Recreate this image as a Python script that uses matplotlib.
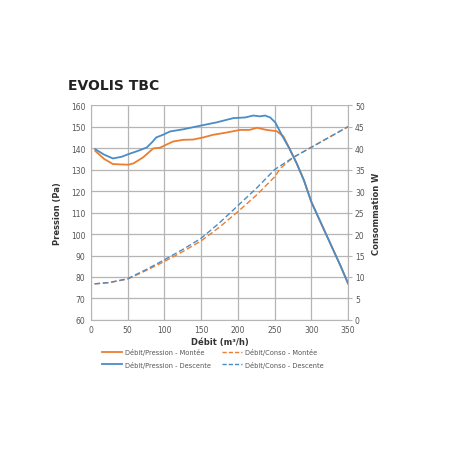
import numpy as np
import matplotlib
matplotlib.use("Agg")
import matplotlib.pyplot as plt
from matplotlib.lines import Line2D

# Débit/Pression (Pa) - left axis
x_p_montee = [6, 18, 30, 42, 51, 58, 71, 85, 94, 105, 112, 126, 139, 153, 166, 185, 203, 216, 226, 239, 253, 262, 270, 280, 290, 300, 320, 340, 350]
p_montee = [138.7, 135.0, 132.6, 132.4, 132.3, 132.9, 135.7, 139.9, 140.2, 142.0, 143.1, 143.9, 144.0, 145.0, 146.2, 147.3, 148.5, 148.5, 149.5, 148.5, 147.9, 145.5, 140.0, 133.0, 125.0, 115.0, 100.0, 85.0, 77.0]
x_p_descente = [6, 18, 30, 42, 51, 63, 76, 84, 89, 98, 108, 126, 148, 171, 194, 210, 221, 230, 237, 244, 251, 260, 270, 280, 290, 300, 320, 340, 350]
p_descente = [139.5, 137.0, 135.2, 136.0, 137.2, 138.6, 140.3, 143.0, 145.0, 146.2, 147.8, 148.8, 150.4, 152.0, 154.0, 154.3, 155.2, 154.8, 155.2, 154.3, 152.0, 146.0, 140.0, 133.0, 125.0, 115.0, 100.0, 85.0, 77.0]

# Débit/Conso (W) - right axis
x_c = [5, 25, 50, 75, 100, 125, 150, 175, 200, 225, 250, 258, 275, 300, 325, 350]
c_montee = [8.4, 8.7, 9.5, 11.5, 13.6, 15.9, 18.4, 21.6, 25.2, 29.0, 33.3, 35.3, 37.8, 40.2, 42.6, 45.0]
c_descente = [8.4, 8.7, 9.6, 11.7, 14.0, 16.4, 19.0, 22.6, 26.6, 30.6, 35.0, 35.9, 37.8, 40.2, 42.6, 45.0]

orange = "#ED7D31"
blue = "#4A8CC6"
grid_c = "#b5b5b5"
tick_c = "#555555"

fig = plt.figure(figsize=(4.52, 4.52), dpi=100)
ax = fig.add_axes([0.201, 0.29, 0.569, 0.475])
ax2 = ax.twinx()

ax.plot(x_p_montee, p_montee, color=orange, lw=1.3)
ax.plot(x_p_descente, p_descente, color=blue, lw=1.3)
ax2.plot(x_c, c_montee, color=orange, lw=1.0, ls=(0, (4, 2)))
ax2.plot(x_c, c_descente, color=blue, lw=1.0, ls=(0, (4, 2)))

ax.set_xlim(0, 350)
ax.set_ylim(60, 160)
ax2.set_ylim(0, 50)
ax.set_xticks(np.arange(0, 351, 50))
ax.set_yticks(np.arange(60, 161, 10))
ax2.set_yticks(np.arange(0, 51, 5))
ax.grid(True, color=grid_c, lw=0.9)
ax.set_axisbelow(True)

for a in (ax, ax2):
    for s in a.spines.values():
        s.set_visible(False)
    a.tick_params(labelsize=5.5, labelcolor=tick_c, color=grid_c, length=3, width=0.8)
ax.spines["left"].set_visible(True)
ax.spines["left"].set_color(grid_c)
ax.spines["bottom"].set_visible(True)
ax.spines["bottom"].set_color(grid_c)
ax2.spines["right"].set_visible(True)
ax2.spines["right"].set_color(grid_c)
ax.tick_params(axis="both", length=0, pad=4)
ax2.tick_params(axis="y", length=3, pad=2)

ax.set_xlabel("Débit (m³/h)", fontsize=6, fontweight="bold", color="#333333", labelpad=1.5)
ax.set_ylabel("Pression (Pa)", fontsize=6, fontweight="bold", color="#333333", labelpad=6)
ax2.set_ylabel("Consommation W", fontsize=6, fontweight="bold", color="#333333", labelpad=5)

fig.text(0.150, 0.800, "EVOLIS TBC", fontsize=10, fontweight="bold", color="#222222")

handles = [
    Line2D([], [], color=orange, lw=1.3),
    Line2D([], [], color=blue, lw=1.3),
    Line2D([], [], color=orange, lw=1.0, ls=(0, (3, 1.5))),
    Line2D([], [], color=blue, lw=1.0, ls=(0, (3, 1.5))),
]
labels = ["Débit/Pression - Montée", "Débit/Pression - Descente",
          "Débit/Conso - Montée", "Débit/Conso - Descente"]
fig.legend(handles, labels, ncol=2, loc="upper left", bbox_to_anchor=(102 / 452, 1 - 349 / 452),
           frameon=False, fontsize=4.8, handlelength=3.0, columnspacing=1.6,
           labelspacing=0.85, handletextpad=0.45, labelcolor=tick_c,
           borderpad=0, borderaxespad=0)

fig.savefig("out.png", dpi=100)
